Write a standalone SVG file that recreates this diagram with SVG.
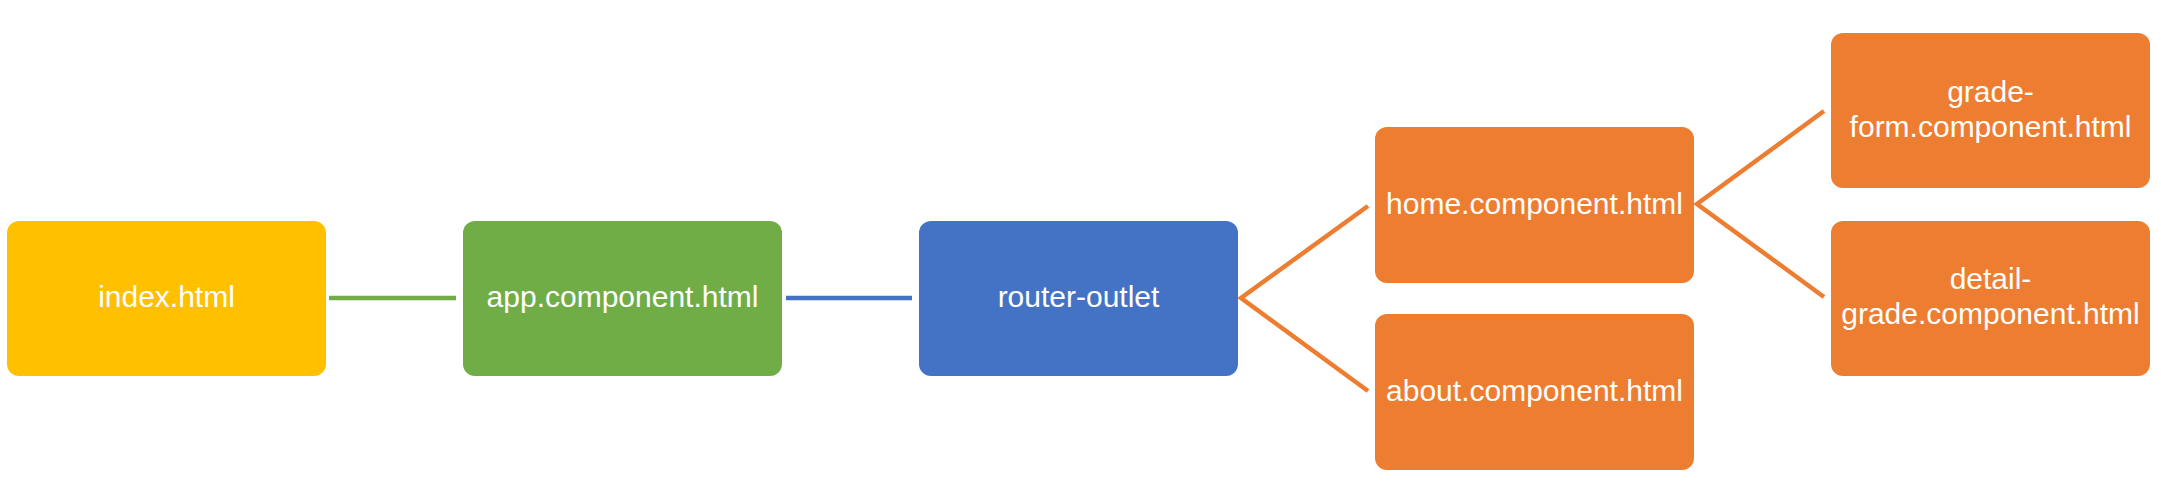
<svg xmlns="http://www.w3.org/2000/svg" width="2161" height="502" viewBox="0 0 2161 502">
<style>
.box{stroke:none}
.t{font-family:"Liberation Sans",Arial,sans-serif;font-size:30px;fill:#ffffff;text-anchor:middle}
.c{fill:none;stroke-width:4.5}
</style>
<rect width="2161" height="502" fill="#ffffff"/>
<g id="connectors">
<line class="c" x1="329" y1="298" x2="456" y2="298" stroke="#70AD47"/>
<line class="c" x1="786" y1="298" x2="912" y2="298" stroke="#4472C4"/>
<polyline class="c" points="1368,206 1241,298 1368,391" stroke="#ED7D31"/>
<polyline class="c" points="1824,111 1697,204 1824,297" stroke="#ED7D31"/>
</g>
<g id="index">
<rect class="box" x="7" y="221" width="319" height="155" rx="12" fill="#FFC000"/>
<text class="t" x="166.5" y="307">index.html</text>
</g>
<g id="app">
<rect class="box" x="463" y="221" width="319" height="155" rx="12" fill="#70AD47"/>
<text class="t" x="622.5" y="307">app.component.html</text>
</g>
<g id="router">
<rect class="box" x="919" y="221" width="319" height="155" rx="12" fill="#4472C4"/>
<text class="t" x="1078.5" y="307">router-outlet</text>
</g>
<g id="home">
<rect class="box" x="1375" y="127" width="319" height="156" rx="12" fill="#ED7D31"/>
<text class="t" x="1534.5" y="214">home.component.html</text>
</g>
<g id="about">
<rect class="box" x="1375" y="314" width="319" height="156" rx="12" fill="#ED7D31"/>
<text class="t" x="1534.5" y="401">about.component.html</text>
</g>
<g id="gradeform">
<rect class="box" x="1831" y="33" width="319" height="155" rx="12" fill="#ED7D31"/>
<text class="t" x="1990.5" y="102">grade-</text>
<text class="t" x="1990.5" y="137">form.component.html</text>
</g>
<g id="detailgrade">
<rect class="box" x="1831" y="221" width="319" height="155" rx="12" fill="#ED7D31"/>
<text class="t" x="1990.5" y="289">detail-</text>
<text class="t" x="1990.5" y="324">grade.component.html</text>
</g>
</svg>
